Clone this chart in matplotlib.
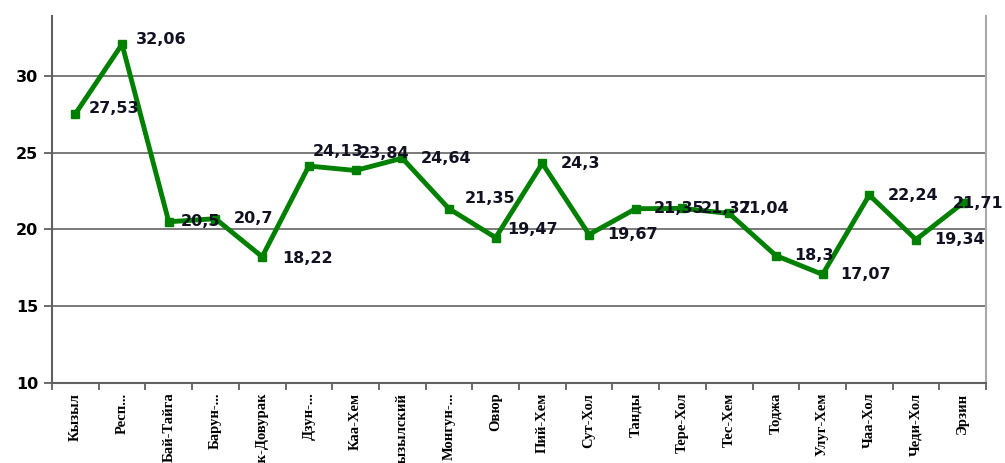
import numpy as np
import matplotlib
matplotlib.use("Agg")
import matplotlib.pyplot as plt

regions = ["Кызыл", "Респ...", "Бай-Тайга", "Барун-...", "Ак-Довурак", "Дзун-...",
           "Каа-Хем", "Кызылский", "Монгун-...", "Овюр", "Пий-Хем", "Сут-Хол",
           "Танды", "Тере-Хол", "Тес-Хем", "Тоджа", "Улуг-Хем", "Чаа-Хол",
           "Чеди-Хол", "Эрзин"]
values = [27.53, 32.06, 20.5, 20.7, 18.22, 24.13, 23.84, 24.64, 21.35, 19.47,
          24.3, 19.67, 21.35, 21.37, 21.04, 18.3, 17.07, 22.24, 19.34, 21.71]
yticks = [10, 15, 20, 25, 30]

# label nudges in pixels (default is to the right of the point)
label_shift = {5: (4, 15), 6: (3, 17), 8: (16, 10), 9: (12, 8), 14: (10, 5),
               19: (-10, 0), 0: (13, 5), 1: (14, 5), 4: (20, -2), 2: (12, 0)}

fig = plt.figure(figsize=(10.05, 4.63), dpi=100)
ax = fig.add_axes([52 / 1005, 1 - 383 / 463, 934 / 1005, 367 / 463])

x = np.arange(len(regions))
ax.plot(x, values, color="#008000", lw=3.5, marker="s", ms=6, zorder=3)

for i, (xi, v) in enumerate(zip(x, values)):
    label = ("%g" % v).replace(".", ",")
    dx, dy = label_shift.get(i, (18, 0))
    ax.annotate(label, (xi, v), xytext=(dx, dy), textcoords="offset pixels",
                ha="left", va="center", fontsize=11.5, fontweight="bold",
                color="#111122", zorder=4)

ax.set_xlim(-0.5, len(regions) - 0.5)
ax.set_ylim(10, 33.9)
ax.set_yticks(yticks)
ax.set_yticklabels([str(t) for t in yticks], fontsize=11.5, fontweight="bold")
ax.yaxis.grid(True, color="#707070", lw=1.3)
ax.set_axisbelow(True)

ax.set_xticks(x)
ax.set_xticklabels(regions, rotation=90, family="Liberation Serif", fontsize=10.5,
                   fontweight="bold", va="top")
ax.tick_params(axis="x", length=0, pad=7)
ax.set_xticks(np.arange(len(regions) + 1) - 0.5, minor=True)
ax.tick_params(axis="x", which="minor", length=5, color="#606060", width=1.3)
ax.tick_params(axis="y", length=6, color="#606060", width=1.3, pad=4)

ax.spines["top"].set_visible(False)
ax.spines["left"].set_color("#606060")
ax.spines["left"].set_linewidth(1.5)
ax.spines["bottom"].set_color("#606060")
ax.spines["bottom"].set_linewidth(1.5)
ax.spines["right"].set_color("#a8a8a8")
ax.spines["right"].set_linewidth(1.5)

fig.savefig("out.png", dpi=100)
